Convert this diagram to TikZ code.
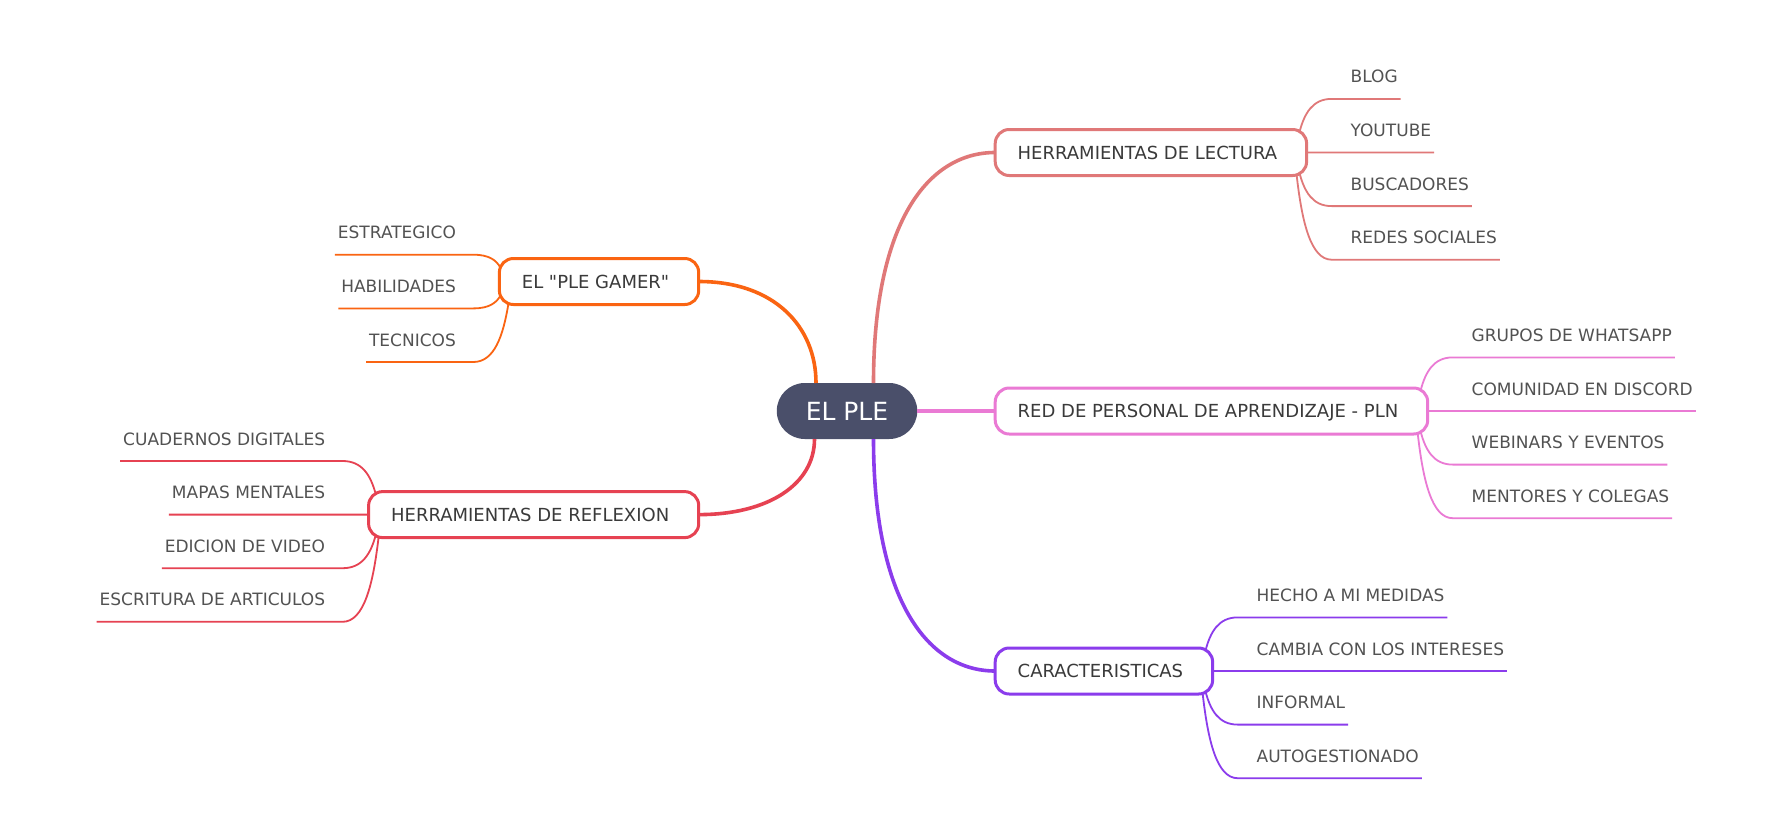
\documentclass[tikz,border=0pt]{standalone}
\usepackage{fontspec}
\setmainfont{DejaVu Sans}
\usetikzlibrary{calc}
\definecolor{cSal}{RGB}{224,120,120}
\definecolor{cPink}{RGB}{234,122,212}
\definecolor{cPur}{RGB}{139,60,236}
\definecolor{cOr}{RGB}{250,100,18}
\definecolor{cRed}{RGB}{230,66,82}
\definecolor{cCtr}{RGB}{74,79,106}
\definecolor{tMain}{RGB}{58,58,58}
\definecolor{tChild}{RGB}{82,82,82}
% straight double quote, bypassing the TeX ligature mapping
\newcommand{\dq}{\XeTeXglyph\XeTeXcharglyph34\relax}
\newcommand{\mtxt}[1]{\kern-3.5pt #1\kern3.5pt}
\tikzset{
  ctr/.style={fill=cCtr, text=white, rounded corners=28pt, minimum width=140.5pt,
    minimum height=56pt, inner sep=0pt, outer sep=0pt, text height=18.2pt, text depth=0pt,
    font=\fontsize{25pt}{28pt}\selectfont},
  mainbox/.style={draw, fill=white, line width=3pt, rounded corners=14pt, minimum height=46pt,
    inner xsep=26pt, inner ysep=0pt, outer sep=0pt, text=tMain, text height=13.1pt, text depth=0pt,
    font=\fontsize{18pt}{20pt}\selectfont},
  childtext/.style={inner sep=0pt, outer sep=0pt, text=tChild, font=\fontsize{17pt}{19pt}\selectfont},
  childline/.style={line width=1.8pt},
  mainline/.style={line width=3.6pt},
}
% right-hand child: #1 parent, #2 name, #3 colour, #4 line offset, #5 start offset, #6 text
\newcommand{\rkid}[6]{%
  \coordinate (#2s) at ($(#1.east)+#5$);
  \coordinate (#2e) at ($(#1.east)+(25,#4)$);
  \node[childtext, anchor=base west] (#2) at ($(#2e)+(19,-16)$) {#6};
  \coordinate (#2a) at ($(#2s)!0.15!(#2e)$);
  \coordinate (#2b) at ($(#2s)!0.55!(#2e)$);
  \coordinate (#2c) at ($(#2s)!0.4!(#2e)$);
  \draw[childline, #3] (#2s) .. controls (#2a |- #2b) and (#2c |- #2e) .. (#2e) -- ($(#2.base east)+(3,16)$);
}
% left-hand child
\newcommand{\lkid}[6]{%
  \coordinate (#2s) at ($(#1.west)+#5$);
  \coordinate (#2e) at ($(#1.west)+(-26,#4)$);
  \node[childtext, anchor=base east] (#2) at ($(#2e)+(-17.5,-16)$) {#6};
  \coordinate (#2a) at ($(#2s)!0.15!(#2e)$);
  \coordinate (#2b) at ($(#2s)!0.55!(#2e)$);
  \coordinate (#2c) at ($(#2s)!0.4!(#2e)$);
  \draw[childline, #3] (#2s) .. controls (#2a |- #2b) and (#2c |- #2e) .. (#2e) -- ($(#2.base west)+(-3,16)$);
}
\begin{document}
\begin{tikzpicture}[x=1pt,y=-1pt]
\useasboundingbox[fill=white] (0,0) rectangle (1791,822);

% central and main nodes
\node[ctr] (ple) at (847,411) {EL PLE};
\node[mainbox, draw=cSal, anchor=west] (lect) at (995.2,152.5) {\mtxt{HERRAMIENTAS DE LECTURA}};
\node[mainbox, draw=cPink, anchor=west] (pln) at (995.2,411) {\mtxt{RED DE PERSONAL DE APRENDIZAJE - PLN}};
\node[mainbox, draw=cPur, anchor=west] (car) at (995.2,671) {\mtxt{CARACTERISTICAS}};
\node[mainbox, draw=cOr, anchor=east] (gam) at (698.7,281.5) {\mtxt{EL \dq PLE GAMER\dq}};
\node[mainbox, draw=cRed, anchor=east] (ref) at (698.7,514.6) {\mtxt{HERRAMIENTAS DE REFLEXION}};

% main connectors
\coordinate (sOr) at ($(ple.north)+(-31,0)$);
\coordinate (sSal) at ($(ple.north)+(26.5,0)$);
\coordinate (sRed) at ($(ple.south)+(-32.5,0)$);
\coordinate (sPur) at ($(ple.south)+(26.5,0)$);
\coordinate (kOr) at (sOr |- gam.east);
\coordinate (kSal) at (sSal |- lect.west);
\coordinate (kRed) at (sRed |- ref.east);
\coordinate (kPur) at (sPur |- car.west);
\draw[mainline, cSal] (sSal) .. controls ($(sSal)!0.7!(kSal)$) and ($(kSal)!0.45!(lect.west)$) .. (lect.west);
\draw[mainline, cPur] (sPur) .. controls ($(sPur)!0.7!(kPur)$) and ($(kPur)!0.45!(car.west)$) .. (car.west);
\draw[mainline, cOr] (sOr) .. controls ($(sOr)!0.55!(kOr)$) and ($(kOr)!0.35!(gam.east)$) .. (gam.east);
\draw[mainline, cRed] (sRed) .. controls ($(sRed)!0.6!(kRed)$) and ($(kRed)!0.4!(ref.east)$) .. (ref.east);
\draw[mainline, cPink] (ple.east) -- (pln.west);

% children of HERRAMIENTAS DE LECTURA
\rkid{lect}{blog}{cSal}{-53.6}{(-7,-21)}{BLOG}
\rkid{lect}{youtube}{cSal}{0}{(0,0)}{YOUTUBE}
\rkid{lect}{busc}{cSal}{53.6}{(-7,21)}{BUSCADORES}
\rkid{lect}{redes}{cSal}{107.2}{(-10,22.5)}{REDES SOCIALES}

% children of RED DE PERSONAL
\rkid{pln}{grupos}{cPink}{-53.6}{(-7,-21)}{GRUPOS DE WHATSAPP}
\rkid{pln}{discord}{cPink}{0}{(0,0)}{COMUNIDAD EN DISCORD}
\rkid{pln}{webinars}{cPink}{53.6}{(-7,21)}{WEBINARS Y EVENTOS}
\rkid{pln}{mentores}{cPink}{107.2}{(-10,22.5)}{MENTORES Y COLEGAS}

% children of CARACTERISTICAS
\rkid{car}{hecho}{cPur}{-53.6}{(-7,-21)}{HECHO A MI MEDIDAS}
\rkid{car}{cambia}{cPur}{0}{(0,0)}{CAMBIA CON LOS INTERESES}
\rkid{car}{informal}{cPur}{53.6}{(-7,21)}{INFORMAL}
\rkid{car}{autog}{cPur}{107.2}{(-10,22.5)}{AUTOGESTIONADO}

% children of EL "PLE GAMER"
\lkid{gam}{estr}{cOr}{-26.8}{(1,-14)}{ESTRATEGICO}
\lkid{gam}{habil}{cOr}{26.9}{(1.5,13.5)}{HABILIDADES}
\lkid{gam}{tecn}{cOr}{80.5}{(9,22.5)}{TECNICOS}

% children of HERRAMIENTAS DE REFLEXION
\lkid{ref}{cuad}{cRed}{-53.6}{(7,-21)}{CUADERNOS DIGITALES}
\lkid{ref}{mapas}{cRed}{0}{(0,0)}{MAPAS MENTALES}
\lkid{ref}{edic}{cRed}{53.6}{(7,21)}{EDICION DE VIDEO}
\lkid{ref}{escr}{cRed}{107.2}{(10,22.5)}{ESCRITURA DE ARTICULOS}
\end{tikzpicture}
\end{document}
